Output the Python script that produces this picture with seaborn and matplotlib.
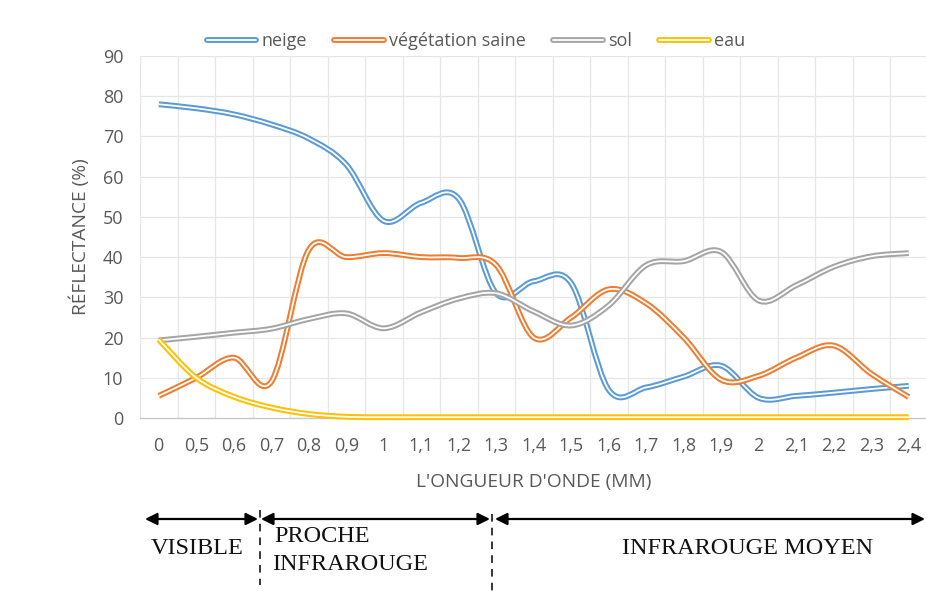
import numpy as np
import pandas as pd
import matplotlib
matplotlib.use("Agg")
import matplotlib.pyplot as plt
import seaborn as sns
from matplotlib.path import Path
from matplotlib.patches import PathPatch, FancyArrowPatch
from matplotlib.lines import Line2D
import matplotlib.patheffects as pe

# ---- data -------------------------------------------------------------
categories = ["0", "0,5", "0,6", "0,7", "0,8", "0,9", "1", "1,1", "1,2", "1,3",
              "1,4", "1,5", "1,6", "1,7", "1,8", "1,9", "2", "2,1", "2,2", "2,3", "2,4"]
neige = [78, 77, 75.5, 73, 69.5, 63, 49, 53.5, 54.5, 31, 34, 33.5, 7, 7.6, 10.3, 13,
         5, 5.5, 6.3, 7.2, 8]
vegetation = [5.5, 10, 15, 9, 41.8, 40, 41, 40, 39.8, 38, 20, 25, 32, 28.5, 20, 9.5,
              10.5, 15, 18, 11, 5.2]
sol = [19.3, 20.2, 21.2, 22.2, 24.6, 26, 22.3, 26.3, 29.7, 31, 26.5, 23, 28, 38, 39,
       41.3, 29.2, 33, 37.6, 40.2, 41]
eau = [19.5, 10, 5.3, 2.6, 1.0, 0.3, 0.2, 0.2, 0.2, 0.2, 0.2, 0.2, 0.2, 0.2, 0.2,
       0.2, 0.2, 0.2, 0.2, 0.2, 0.2]
series_names = ["neige", "végétation saine", "sol", "eau"]
series_values = [neige, vegetation, sol, eau]
colors = ["#5B9BD5", "#ED7D31", "#A5A5A5", "#FFC000"]
y_ticks = [0, 10, 20, 30, 40, 50, 60, 70, 80, 90]

# ---- figure -----------------------------------------------------------
sns.set_style("white")
W, H = 926, 605
fig = plt.figure(figsize=(W / 100, H / 100), dpi=100)
ax = fig.add_axes([140 / W, 1 - 418 / H, 787.5 / W, (418 - 56) / H])

TXT = "#595959"
SANS = ["Open Sans", "DejaVu Sans"]
FS = 13

outer_w, inner_w = 4.2, 1.3


def smooth_path(xs, ys):
    pts = np.column_stack([xs, ys]).astype(float)
    n = len(pts)
    verts = [pts[0]]
    codes = [Path.MOVETO]
    for i in range(n - 1):
        p0 = pts[i - 1] if i > 0 else pts[i]
        p1 = pts[i]
        p2 = pts[i + 1]
        p3 = pts[i + 2] if i + 2 < n else pts[i + 1]
        c1 = p1 + (p2 - p0) / 6.0
        c2 = p2 - (p3 - p1) / 6.0
        verts += [c1, c2, p2]
        codes += [Path.CURVE4] * 3
    return Path(verts, codes)


idx = np.arange(len(categories))
for name, vals, col in zip(series_names, series_values, colors):
    df = pd.DataFrame({"x": idx, "y": vals})
    sns.lineplot(data=df, x="x", y="y", ax=ax, color=col, legend=False)
    line = ax.lines[-1]
    xd, yd = line.get_xdata(), line.get_ydata()
    line.set_visible(False)
    patch = PathPatch(smooth_path(xd, yd), facecolor="none", edgecolor="white",
                      lw=inner_w, zorder=3, capstyle="butt", clip_on=False,
                      path_effects=[pe.Stroke(linewidth=outer_w, foreground=col),
                                    pe.Normal()])
    ax.add_patch(patch)

ax.set_xlim(-0.5, len(categories) - 0.5)
ax.set_ylim(0, 90)
ax.set_xticks(idx)
ax.set_xticklabels(categories)
ax.set_yticks(y_ticks)
ax.grid(False)
for gx in np.arange(-0.5, len(categories), 1.0):
    ax.axvline(gx, color="#E6E6E6", lw=0.9, zorder=0)
for gy in y_ticks[1:]:
    ax.axhline(gy, color="#E6E6E6", lw=0.9, zorder=0)
for s in ["top", "right", "left"]:
    ax.spines[s].set_visible(False)
ax.spines["bottom"].set_color("#C8C8C8")
ax.spines["bottom"].set_linewidth(1.0)
ax.spines["bottom"].set_zorder(1)

ax.tick_params(axis="both", which="both", length=0)
ax.tick_params(axis="x", pad=14, labelsize=FS, labelcolor=TXT)
ax.tick_params(axis="y", pad=12, labelsize=FS, labelcolor=TXT)
for lab in ax.get_xticklabels() + ax.get_yticklabels():
    lab.set_family(SANS)

ax.set_xlabel("L'ONGUEUR D'ONDE (MM)", fontsize=13.8, color=TXT, family=SANS, labelpad=13)
ax.set_ylabel("RÉFLECTANCE (%)", fontsize=13.8, color=TXT, family=SANS, labelpad=9)

# legend
handles = [Line2D([0], [0], color="white", lw=inner_w,
                  path_effects=[pe.Stroke(linewidth=outer_w, foreground=c), pe.Normal()])
           for c in colors]
fig.legend(handles, series_names, loc="center", bbox_to_anchor=(476 / W, 1 - 41 / H),
           ncol=4, frameon=False, handlelength=2.75, columnspacing=1.5,
           handletextpad=0.3, labelcolor=TXT, prop={"family": SANS, "size": 13})


# bottom region annotations (figure coords)
def fx(px):
    return px / W


def fy(py):
    return 1 - py / H


arrow_kw = dict(arrowstyle="<|-|>", color="black", lw=1.6, mutation_scale=18,
                shrinkA=0, shrinkB=0)
ay = fy(519)
for x0, x1 in [(145, 258), (261, 490), (495, 925)]:
    fig.add_artist(FancyArrowPatch((fx(x0), ay), (fx(x1), ay),
                                   transform=fig.transFigure, **arrow_kw))
for xv, y0, y1 in [(259.5, 510, 585), (491.5, 514, 592)]:
    fig.add_artist(Line2D([fx(xv), fx(xv)], [fy(y0), fy(y1)], transform=fig.transFigure,
                          color="black", lw=1.1, ls=(0, (5, 4))))

SERIF = ["Liberation Serif", "DejaVu Serif"]
SFS = 17.5
fig.text(fx(197), fy(549), "VISIBLE", ha="center", va="center", fontsize=SFS,
         family=SERIF, color="#111111")
fig.text(fx(274), fy(537), "PROCHE", ha="left", va="center", fontsize=SFS,
         family=SERIF, color="#111111")
fig.text(fx(272), fy(565), "INFRAROUGE", ha="left", va="center", fontsize=SFS,
         family=SERIF, color="#111111")
fig.text(fx(748), fy(548), "INFRAROUGE MOYEN", ha="center", va="center", fontsize=SFS,
         family=SERIF, color="#111111")

fig.savefig("out.png", dpi=100, facecolor="white")
